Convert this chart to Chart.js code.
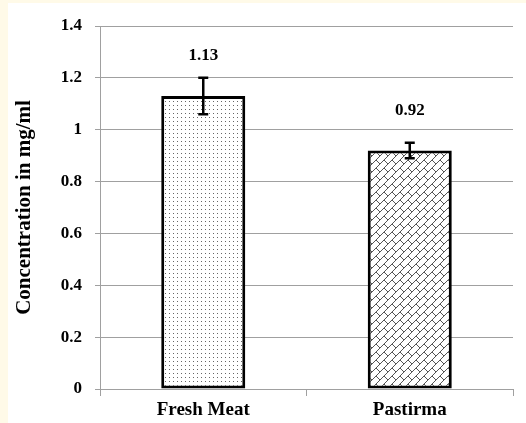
<!DOCTYPE html>
<html><head><meta charset="utf-8">
<script src="https://cdn.jsdelivr.net/npm/chart.js@4"></script>
<style>html,body{margin:0;padding:0;background:#fffae8;}</style>
</head><body>
<canvas id="c" width="526" height="423" style="display:block;width:526px;height:423px"></canvas>
<script>
const categories = ['Fresh Meat', 'Pastirma'];
const concentration = [1.13, 0.92];
const errorMargin = [0.07, 0.03];
const dataLabels = ['1.13', '0.92'];
const yAxisTitle = 'Concentration in mg/ml';
const yMin = 0, yMax = 1.4, yStep = 0.2;

function dotPattern() {
  const t = document.createElement('canvas'); t.width = 4; t.height = 4;
  const g = t.getContext('2d');
  g.fillStyle = '#fff'; g.fillRect(0, 0, 4, 4);
  g.fillStyle = '#666'; g.fillRect(1, 1, 1, 1);
  return document.getElementById('c').getContext('2d').createPattern(t, 'repeat');
}
function brickPattern() {
  const s = 8;
  const t = document.createElement('canvas'); t.width = s; t.height = s;
  const g = t.getContext('2d');
  g.fillStyle = '#fff'; g.fillRect(0, 0, s, s);
  g.fillStyle = '#555';
  for (let i = 0; i < s; i++) g.fillRect(i, s - 1 - i, 1, 1);
  for (let i = 0; i < 4; i++) g.fillRect(i, i, 1, 1);
  return document.getElementById('c').getContext('2d').createPattern(t, 'repeat');
}

const bgPlugin = {
  id: 'bg',
  beforeDraw(chart) {
    const ctx = chart.ctx;
    ctx.save();
    ctx.fillStyle = '#fffae8'; ctx.fillRect(0, 0, chart.width, chart.height);
    ctx.fillStyle = '#ffffff'; ctx.fillRect(8, 3, chart.width - 8, chart.height - 3);
    ctx.restore();
  }
};

const errPlugin = {
  id: 'err',
  afterDatasetsDraw(chart) {
    const ctx = chart.ctx;
    const ys = chart.scales.y;
    const meta = chart.getDatasetMeta(0);
    ctx.save();
    meta.data.forEach((bar, i) => {
      const x = bar.x;
      const top = ys.getPixelForValue(concentration[i] + errorMargin[i]);
      const bot = ys.getPixelForValue(concentration[i] - errorMargin[i]);
      ctx.strokeStyle = '#000'; ctx.lineWidth = 2.5;
      ctx.beginPath();
      ctx.moveTo(x, top); ctx.lineTo(x, bot);
      ctx.moveTo(x - 5, top); ctx.lineTo(x + 5, top);
      ctx.moveTo(x - 5, bot); ctx.lineTo(x + 5, bot);
      ctx.stroke();
      ctx.fillStyle = '#000';
      ctx.font = 'bold 17px "Liberation Serif"';
      ctx.textAlign = 'center'; ctx.textBaseline = 'middle';
      ctx.fillText(dataLabels[i], x, bar.y - 40);
    });
    ctx.restore();
  }
};

new Chart(document.getElementById('c'), {
  type: 'bar',
  data: {
    labels: categories,
    datasets: [{
      data: concentration,
      backgroundColor: [dotPattern(), brickPattern()],
      borderColor: '#000',
      borderWidth: 3,
      borderSkipped: false,
      barPercentage: 0.407,
      categoryPercentage: 1
    }]
  },
  options: {
    responsive: false,
    animation: false,
    devicePixelRatio: 1,
    layout: { padding: { top: 26, right: 13, left: 0, bottom: 0 } },
    plugins: { legend: { display: false }, tooltip: { enabled: false } },
    scales: {
      x: {
        afterFit(s) { s.height = 34; },
        grid: { drawOnChartArea: false, tickLength: 7, color: '#a0a0a0', offset: true },
        border: { color: '#a0a0a0' },
        ticks: { color: '#000', padding: 3, font: { family: 'Liberation Serif', weight: 'bold', size: 19 } }
      },
      y: {
        min: yMin, max: yMax,
        afterFit(s) { s.width = 100; },
        grid: { color: '#a0a0a0', tickLength: 5 },
        border: { color: '#a0a0a0' },
        ticks: {
          stepSize: yStep, color: '#000', padding: 13,
          font: { family: 'Liberation Serif', weight: 'bold', size: 17 },
          callback: v => String(Number(v.toFixed(1)))
        },
        title: { display: true, text: yAxisTitle, color: '#000', padding: { top: 12 }, font: { family: 'Liberation Serif', weight: 'bold', size: 21 } }
      }
    }
  },
  plugins: [bgPlugin, errPlugin]
});
</script>
</body></html>
